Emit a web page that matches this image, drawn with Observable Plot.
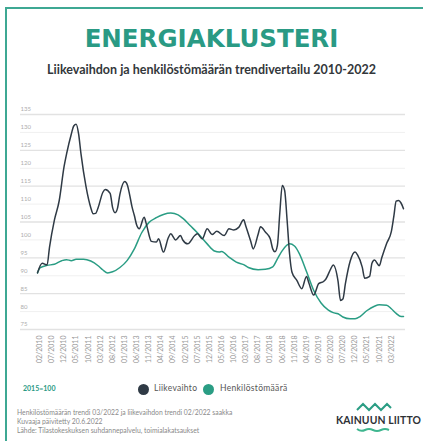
<!DOCTYPE html>
<html><head><meta charset="utf-8">
<script src="https://cdn.jsdelivr.net/npm/d3@7"></script>
<script src="https://cdn.jsdelivr.net/npm/@observablehq/plot@0.6"></script>
<style>
body{margin:0;background:#fff;width:423px;height:441px;overflow:hidden;position:relative;font-family:Lato,"Open Sans",sans-serif;}
.abs{position:absolute;white-space:nowrap;}
#frameTop{left:5px;top:7px;width:418px;height:2px;background:#3ea893;}
#frameLeft{left:5px;top:7px;width:2px;height:434px;background:#3ea893;}
#title{top:27px;left:0;width:423px;text-align:center;font:bold 24.5px/1 "DejaVu Sans";color:#2a9a84;}
#subtitle{top:64px;left:0;width:423px;text-align:center;font:bold 12.5px/1 Lato;color:#33373b;}
#chart{left:0;top:100px;}
#base{left:23px;top:385px;font:bold 7px/1 Lato;color:#2a9a84;}
.dot{width:11px;height:11px;border-radius:50%;top:383.5px;}
.leg{top:384px;font:8.5px/1 Lato;color:#555;letter-spacing:0.3px;}
.foot{left:17px;font:6.8px/1 Lato;color:#8a8a8a;}
#logo{left:336px;top:415px;font:bold 10.4px/1 Lato;color:#2e3136;letter-spacing:0.1px;}
</style></head>
<body>
<div class="abs" id="frameTop"></div>
<div class="abs" id="frameLeft"></div>
<div class="abs" id="title">ENERGIAKLUSTERI</div>
<div class="abs" id="subtitle">Liikevaihdon ja henkilöstömäärän trendivertailu 2010-2022</div>
<div class="abs" id="chart"></div>
<div class="abs" id="base">2015=100</div>
<div class="abs dot" style="left:137.5px;background:#2f3a45"></div>
<div class="abs leg" style="left:154px">Liikevaihto</div>
<div class="abs dot" style="left:202.5px;background:#2a9d84"></div>
<div class="abs leg" style="left:220px">Henkilöstömäärä</div>
<div class="abs foot" style="top:409px">Henkilöstömäärän trendi 03/2022 ja liikevaihdon trendi 02/2022 saakka</div>
<div class="abs foot" style="top:418px">Kuvaaja päivitetty 20.6.2022</div>
<div class="abs foot" style="top:427px">Lähde: Tilastokeskuksen suhdannepalvelu, toimialakatsaukset</div>
<svg class="abs" style="left:356px;top:402px" width="36" height="10"><path d="M1,8 L7,2 L13,8 L19,2 L25,8 L31,2 L35,6" fill="none" stroke="#2a9d84" stroke-width="2"/></svg>
<div class="abs" id="logo">KAINUUN LIITTO</div>
<svg class="abs" style="left:356px;top:427px" width="36" height="6"><path d="M1,2 Q5,5 9,3 T17,3 T25,3 T33,3" fill="none" stroke="#3fb68f" stroke-width="2"/></svg>
<script>
// Liikevaihto (turnover trend), 2015=100
const revDates = ["2010-01","2010-03","2010-05","2010-06","2010-08","2010-10","2010-12","2011-01","2011-03","2011-04","2011-05","2011-06","2011-07","2011-09","2011-11","2011-12","2012-01","2012-02","2012-04","2012-05","2012-07","2012-08","2012-09","2012-10","2012-11","2013-01","2013-02","2013-03","2013-04","2013-05","2013-06","2013-07","2013-09","2013-10","2013-12","2014-02","2014-03","2014-05","2014-07","2014-08","2014-10","2014-12","2015-01","2015-03","2015-06","2015-07","2015-09","2015-11","2016-01","2016-03","2016-06","2016-08","2016-10","2016-12","2017-02","2017-03","2017-05","2017-06","2017-08","2017-09","2017-11","2018-01","2018-02","2018-03","2018-04","2018-05","2018-06","2018-07","2018-08","2018-09","2018-10","2018-12","2019-02","2019-04","2019-05","2019-07","2019-09","2019-11","2019-12","2020-02","2020-03","2020-05","2020-06","2020-07","2020-08","2020-10","2020-12","2021-01","2021-03","2021-04","2021-06","2021-07","2021-08","2021-10","2021-11","2022-01","2022-03","2022-04","2022-05","2022-06","2022-07","2022-08"];
const revValues = [90.8,93.5,93.0,98.0,105.5,111.0,120.5,124.0,129.5,131.8,132.3,129.6,124.0,115.0,109.0,107.3,107.4,109.0,113.3,114.1,113.0,109.0,107.6,108.8,112.8,116.3,115.4,112.8,109.3,106.8,104.0,103.1,106.3,104.2,99.6,99.4,100.3,96.6,100.6,101.7,100.0,101.2,99.9,98.9,101.3,101.7,100.3,103.1,101.5,102.4,101.2,103.1,102.8,103.5,105.6,103.8,99.6,97.5,101.5,103.7,102.2,100.3,97.5,96.7,98.5,107.5,115.2,113.8,105.4,96.0,91.0,88.7,86.4,89.8,88.0,84.6,87.8,88.4,89.1,92.0,93.0,88.5,83.1,83.5,87.7,94.1,96.6,95.8,92.4,89.3,89.8,93.5,94.4,92.8,95.0,99.0,102.3,106.5,110.8,111.0,110.3,108.7];
// Henkilöstömäärä (personnel trend), 2015=100
const staffDates = ["2010-01","2010-02","2010-05","2010-08","2010-11","2011-01","2011-03","2011-05","2011-08","2011-11","2012-02","2012-04","2012-06","2012-08","2012-11","2013-02","2013-05","2013-08","2013-11","2014-02","2014-05","2014-08","2014-11","2015-01","2015-04","2015-07","2015-11","2016-02","2016-04","2016-05","2016-08","2016-11","2017-02","2017-04","2017-08","2017-11","2018-02","2018-04","2018-06","2018-09","2018-11","2019-01","2019-04","2019-07","2019-10","2020-01","2020-03","2020-05","2020-07","2020-10","2020-12","2021-02","2021-05","2021-08","2021-10","2022-01","2022-03","2022-05","2022-07","2022-08"];
const staffValues = [90.8,92.2,92.9,93.2,94.2,94.5,94.2,94.6,94.6,94.1,92.8,91.6,90.8,91.1,92.3,94.3,97.5,102.0,104.9,106.2,107.1,107.5,107.0,106.0,104.0,102.0,98.9,96.9,96.6,96.8,95.2,93.8,93.1,92.3,91.7,91.8,92.5,94.7,97.0,98.9,98.3,96.2,91.2,85.9,82.4,80.4,79.7,79.4,78.5,78.0,78.0,78.6,80.3,81.5,81.9,81.8,80.8,79.5,78.6,78.6];
const xTickLabels = ["02/2010","07/2010","12/2010","05/2011","10/2011","03/2012","08/2012","01/2013","06/2013","11/2013","04/2014","09/2014","02/2015","07/2015","12/2015","05/2016","10/2016","03/2017","08/2017","01/2018","06/2018","11/2018","04/2019","09/2019","02/2020","07/2020","12/2020","05/2021","10/2021","03/2022"];
const yTicks = [75,80,85,90,95,100,105,110,115,120,125,130,135];
const yMajor = [75,85,95,105,115,125,135];
const yMinor = [80,90,100,110,120,130];

const ym = s => new Date(Date.UTC(+s.slice(0,4), +s.slice(5,7)-1, 1));
const my = s => new Date(Date.UTC(+s.slice(3,7), +s.slice(0,2)-1, 1));
const rev = revDates.map((d,i)=>({date: ym(d), value: revValues[i]}));
const staff = staffDates.map((d,i)=>({date: ym(d), value: staffValues[i]}));
const xTicks = xTickLabels.map(my);

const chart = Plot.plot({
  width: 423, height: 270,
  marginLeft: 37, marginRight: 20, marginTop: 14, marginBottom: 41,
  x: {type: "utc", domain: [ym("2010-01"), ym("2022-08")]},
  y: {domain: [75, 135]},
  style: {background: "transparent", fontFamily: "Lato, sans-serif"},
  marks: [
    Plot.gridY(yMajor, {stroke: "#e2e2e2", strokeOpacity: 1, strokeWidth: 1.3, insetLeft: -17, insetRight: -2}),
    Plot.gridY(yMinor, {stroke: "#f0f0f0", strokeOpacity: 1, strokeWidth: 1, insetLeft: -17, insetRight: -2}),
    Plot.axisY(yTicks, {tickSize: 0, tickPadding: 3, textAnchor: "start", dx: -14, dy: -5, fontSize: 6, fill: "#adadad", label: null}),
    Plot.axisX(xTicks, {tickFormat: d3.utcFormat("%m/%Y"), tickRotate: -90, tickSize: 0, tickPadding: 6, fontSize: 7, fill: "#999", label: null}),
    Plot.line(staff, {x: "date", y: "value", stroke: "#2a9d84", strokeWidth: 1.5, curve: "monotone-x"}),
    Plot.line(rev, {x: "date", y: "value", stroke: "#2f3a45", strokeWidth: 1.5, curve: "monotone-x"})
  ]
});
document.getElementById("chart").appendChild(chart);
</script>
</body></html>
